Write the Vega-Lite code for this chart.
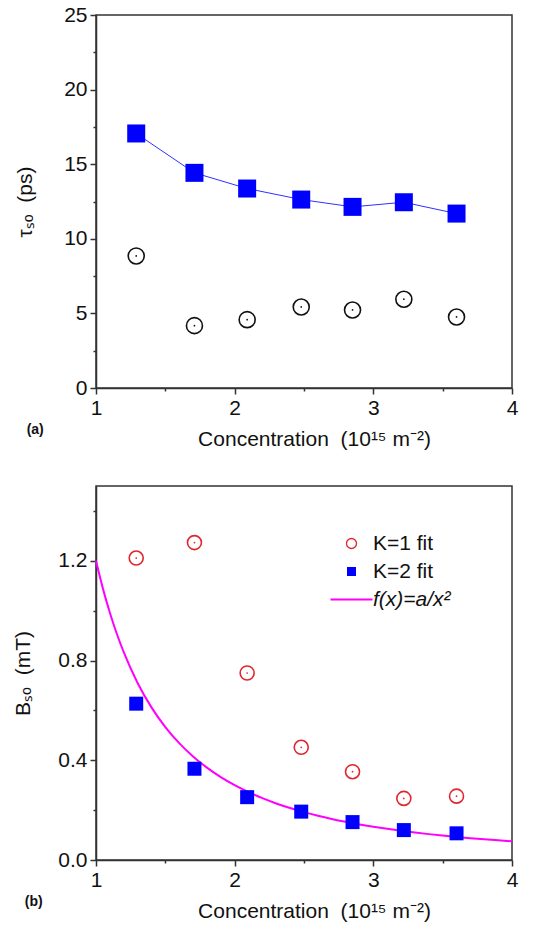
{
  "$schema": "https://vega.github.io/schema/vega-lite/v6.json",
  "background": "white",
  "padding": {"left": 12, "top": 3, "right": 18, "bottom": 2},
  "spacing": 35,
  "resolve": {"scale": {"color": "independent"}, "legend": {"color": "independent"}},
  "config": {
    "font": "Liberation Sans",
    "view": {"stroke": "#333333", "strokeWidth": 1.5},
    "axis": {
      "domainColor": "#333333", "domainWidth": 1.5,
      "tickColor": "#333333", "tickWidth": 1.5,
      "labelFont": "Liberation Sans", "labelFontSize": 21, "labelColor": "#111111",
      "titleFont": "Liberation Sans", "titleFontSize": 21, "titleFontWeight": "normal", "titleColor": "#111111",
      "grid": false, "labelPadding": 3
    }
  },
  "datasets": {
    "tau": [
      {"x": 1.29, "y": 17.06, "s": "K2"},
      {"x": 1.71, "y": 14.42, "s": "K2"},
      {"x": 2.09, "y": 13.37, "s": "K2"},
      {"x": 2.48, "y": 12.63, "s": "K2"},
      {"x": 2.85, "y": 12.14, "s": "K2"},
      {"x": 3.22, "y": 12.45, "s": "K2"},
      {"x": 3.60, "y": 11.69, "s": "K2"},
      {"x": 1.29, "y": 8.85, "s": "K1"},
      {"x": 1.71, "y": 4.18, "s": "K1"},
      {"x": 2.09, "y": 4.58, "s": "K1"},
      {"x": 2.48, "y": 5.43, "s": "K1"},
      {"x": 2.85, "y": 5.23, "s": "K1"},
      {"x": 3.22, "y": 5.95, "s": "K1"},
      {"x": 3.60, "y": 4.76, "s": "K1"}
    ],
    "bso": [
      {"x": 1.29, "y": 1.211, "s": "K=1 fit"},
      {"x": 1.71, "y": 1.273, "s": "K=1 fit"},
      {"x": 2.09, "y": 0.750, "s": "K=1 fit"},
      {"x": 2.48, "y": 0.452, "s": "K=1 fit"},
      {"x": 2.85, "y": 0.354, "s": "K=1 fit"},
      {"x": 3.22, "y": 0.247, "s": "K=1 fit"},
      {"x": 3.60, "y": 0.256, "s": "K=1 fit"},
      {"x": 1.29, "y": 0.627, "s": "K=2 fit"},
      {"x": 1.71, "y": 0.366, "s": "K=2 fit"},
      {"x": 2.09, "y": 0.252, "s": "K=2 fit"},
      {"x": 2.48, "y": 0.194, "s": "K=2 fit"},
      {"x": 2.85, "y": 0.152, "s": "K=2 fit"},
      {"x": 3.22, "y": 0.120, "s": "K=2 fit"},
      {"x": 3.60, "y": 0.107, "s": "K=2 fit"}
    ],
    "fit": [
      {"x": 1.0, "y": 1.2, "s": "f(x)=a/x²"}, {"x": 1.05, "y": 1.0884, "s": "f(x)=a/x²"}, {"x": 1.1, "y": 0.9917, "s": "f(x)=a/x²"},
      {"x": 1.15, "y": 0.9074, "s": "f(x)=a/x²"}, {"x": 1.2, "y": 0.8333, "s": "f(x)=a/x²"}, {"x": 1.3, "y": 0.7101, "s": "f(x)=a/x²"},
      {"x": 1.4, "y": 0.6122, "s": "f(x)=a/x²"}, {"x": 1.5, "y": 0.5333, "s": "f(x)=a/x²"}, {"x": 1.6, "y": 0.4688, "s": "f(x)=a/x²"},
      {"x": 1.7, "y": 0.4152, "s": "f(x)=a/x²"}, {"x": 1.8, "y": 0.3704, "s": "f(x)=a/x²"}, {"x": 1.9, "y": 0.3324, "s": "f(x)=a/x²"},
      {"x": 2.0, "y": 0.3, "s": "f(x)=a/x²"}, {"x": 2.1, "y": 0.2721, "s": "f(x)=a/x²"}, {"x": 2.2, "y": 0.2479, "s": "f(x)=a/x²"},
      {"x": 2.3, "y": 0.2268, "s": "f(x)=a/x²"}, {"x": 2.4, "y": 0.2083, "s": "f(x)=a/x²"}, {"x": 2.5, "y": 0.192, "s": "f(x)=a/x²"},
      {"x": 2.6, "y": 0.1775, "s": "f(x)=a/x²"}, {"x": 2.7, "y": 0.1646, "s": "f(x)=a/x²"}, {"x": 2.8, "y": 0.1531, "s": "f(x)=a/x²"},
      {"x": 2.9, "y": 0.1427, "s": "f(x)=a/x²"}, {"x": 3.0, "y": 0.1333, "s": "f(x)=a/x²"}, {"x": 3.1, "y": 0.1249, "s": "f(x)=a/x²"},
      {"x": 3.2, "y": 0.1172, "s": "f(x)=a/x²"}, {"x": 3.3, "y": 0.1102, "s": "f(x)=a/x²"}, {"x": 3.4, "y": 0.1038, "s": "f(x)=a/x²"},
      {"x": 3.5, "y": 0.098, "s": "f(x)=a/x²"}, {"x": 3.6, "y": 0.0926, "s": "f(x)=a/x²"}, {"x": 3.7, "y": 0.0877, "s": "f(x)=a/x²"},
      {"x": 3.8, "y": 0.0831, "s": "f(x)=a/x²"}, {"x": 3.9, "y": 0.0789, "s": "f(x)=a/x²"}, {"x": 4.0, "y": 0.075, "s": "f(x)=a/x²"}
    ]
  },
  "vconcat": [
    {
      "width": 416, "height": 373,
      "title": {"text": "(a)", "orient": "bottom", "anchor": "start", "frame": "bounds", "offset": -26, "dx": 12, "fontSize": 14, "fontWeight": "bold", "font": "Liberation Sans", "color": "#111111"},
      "encoding": {
        "x": {"field": "x", "type": "quantitative",
          "scale": {"domain": [1, 4], "nice": false, "zero": false},
          "axis": {"values": [1, 1.5, 2, 2.5, 3, 3.5, 4], "format": "~g", "labelExpr": "datum.value % 1 === 0 ? datum.label : ''",
            "tickSize": {"condition": {"test": "datum.value % 1 === 0", "value": 6}, "value": 3},
            "title": "Concentration\u00a0\u00a0(10¹⁵ m⁻²)", "titlePadding": 10, "titleX": 218, "labelFlush": false}},
        "y": {"field": "y", "type": "quantitative",
          "scale": {"domain": [0, 25], "nice": false},
          "axis": {"values": [0, 2.5, 5, 7.5, 10, 12.5, 15, 17.5, 20, 22.5, 25], "labelExpr": "datum.value % 5 === 0 ? datum.label : ''",
            "tickSize": {"condition": {"test": "datum.value % 5 === 0", "value": 6}, "value": 3},
            "title": "τₛₒ\u00a0\u00a0(ps)", "titlePadding": 28, "labelFlush": false}}
      },
      "layer": [
        {"data": {"name": "tau"}, "transform": [{"filter": "datum.s === 'K2'"}],
         "mark": {"type": "line", "color": "#3030ff", "strokeWidth": 1}},
        {"data": {"name": "tau"}, "transform": [{"filter": "datum.s === 'K2'"}],
         "mark": {"type": "point", "shape": "square", "filled": true, "color": "#0000ff", "size": 324, "opacity": 1}},
        {"data": {"name": "tau"}, "transform": [{"filter": "datum.s === 'K1'"}],
         "mark": {"type": "point", "shape": "circle", "filled": false, "color": "#111111", "size": 256, "strokeWidth": 1.6, "opacity": 1}},
        {"data": {"name": "tau"}, "transform": [{"filter": "datum.s === 'K1'"}],
         "mark": {"type": "point", "shape": "circle", "filled": true, "color": "#111111", "size": 3, "opacity": 1}}
      ]
    },
    {
      "width": 416, "height": 374,
      "title": {"text": "(b)", "orient": "bottom", "anchor": "start", "frame": "bounds", "offset": -26, "dx": 12, "fontSize": 14, "fontWeight": "bold", "font": "Liberation Sans", "color": "#111111"},
      "encoding": {
        "x": {"field": "x", "type": "quantitative",
          "scale": {"domain": [1, 4], "nice": false, "zero": false},
          "axis": {"values": [1, 1.5, 2, 2.5, 3, 3.5, 4], "format": "~g", "labelExpr": "datum.value % 1 === 0 ? datum.label : ''",
            "tickSize": {"condition": {"test": "datum.value % 1 === 0", "value": 6}, "value": 3},
            "title": "Concentration\u00a0\u00a0(10¹⁵ m⁻²)", "titlePadding": 10, "titleX": 218, "labelFlush": false}},
        "y": {"field": "y", "type": "quantitative",
          "scale": {"domain": [0, 1.5], "nice": false},
          "axis": {"values": [0, 0.2, 0.4, 0.6, 0.8, 1.0, 1.2, 1.4], "format": ".1f",
            "labelExpr": "round(datum.value * 10) % 4 === 0 ? datum.label : ''",
            "tickSize": {"condition": {"test": "round(datum.value * 10) % 4 === 0", "value": 6}, "value": 3},
            "title": "Bₛₒ\u00a0\u00a0(mT)", "titlePadding": 24, "labelFlush": false}},
        "color": {"field": "s", "type": "nominal",
          "scale": {"domain": ["K=1 fit", "K=2 fit", "f(x)=a/x²"], "range": ["#e0262e", "#0000ff", "#ff00ff"]},
          "legend": {"orient": "none", "legendX": 245, "legendY": 47, "title": null, "padding": 0,
            "symbolSize": 100, "labelFontSize": 21, "labelFont": "Liberation Sans", "labelColor": "#111111",
            "labelOffset": 11, "rowPadding": 6, "symbolStrokeWidth": 1.3,
            "encode": {
              "symbols": {"update": {
                "shape": {"signal": "datum.index === 0 ? 'circle' : datum.index === 1 ? 'square' : 'stroke'"},
                "fill": {"signal": "datum.index === 1 ? '#0000ff' : 'white'"},
                "fillOpacity": {"signal": "datum.index === 1 ? 1 : 0"},
                "stroke": {"signal": "datum.index === 0 ? '#e0262e' : datum.index === 1 ? '#0000ff' : '#ff00ff'"},
                "size": {"signal": "datum.index === 2 ? 1764 : datum.index === 1 ? 81 : 100"},
                "strokeWidth": {"signal": "datum.index === 2 ? 2 : datum.index === 1 ? 0 : 1.3"},
                "opacity": {"value": 1}}},
              "labels": {"update": {"fontStyle": {"signal": "datum.index === 2 ? 'italic' : 'normal'"}}}
            }}}
      },
      "layer": [
        {"data": {"name": "fit"},
         "mark": {"type": "line", "strokeWidth": 2, "interpolate": "monotone"}},
        {"data": {"name": "bso"}, "transform": [{"filter": "datum.s === 'K=2 fit'"}],
         "mark": {"type": "point", "shape": "square", "filled": true, "size": 196, "opacity": 1}},
        {"data": {"name": "bso"}, "transform": [{"filter": "datum.s === 'K=1 fit'"}],
         "mark": {"type": "point", "shape": "circle", "filled": false, "size": 196, "strokeWidth": 1.6, "opacity": 1}},
        {"data": {"name": "bso"}, "transform": [{"filter": "datum.s === 'K=1 fit'"}],
         "mark": {"type": "point", "shape": "circle", "filled": true, "size": 3, "opacity": 1}}
      ]
    }
  ]
}
